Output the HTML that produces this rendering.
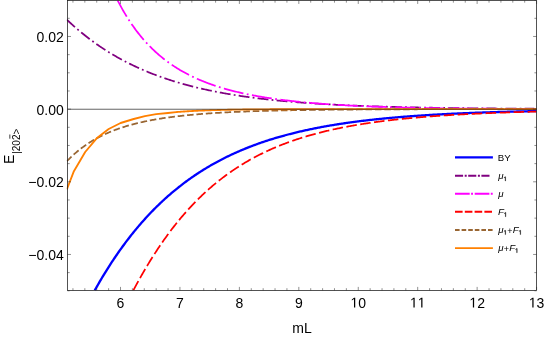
<!DOCTYPE html>
<html><head><meta charset="utf-8"><title>plot</title>
<style>html,body{margin:0;padding:0;background:#fff}body{width:545px;height:338px;position:relative;overflow:hidden;font-family:"Liberation Sans",sans-serif}</style>
</head><body>
<svg width="545" height="338" viewBox="0 0 545 338" style="position:absolute;left:0;top:0">
<defs><clipPath id="c"><rect x="66.7" y="0.45" width="469.90000000000003" height="289.95"/></clipPath></defs>
<g clip-path="url(#c)" fill="none" stroke-width="1.75" stroke-linejoin="round">
<path d="M94.73,290.40 L95.14,289.68 L96.08,288.00 L97.02,286.34 L97.96,284.70 L98.90,283.07 L99.84,281.45 L100.78,279.85 L101.73,278.27 L102.67,276.70 L103.61,275.14 L104.55,273.59 L105.49,272.06 L106.43,270.55 L107.37,269.05 L108.31,267.56 L109.26,266.08 L110.20,264.62 L111.14,263.17 L112.08,261.73 L113.02,260.31 L113.96,258.90 L114.90,257.50 L115.84,256.11 L116.79,254.74 L117.73,253.38 L118.67,252.03 L119.61,250.70 L120.55,249.37 L121.49,248.06 L122.43,246.76 L123.37,245.47 L124.32,244.19 L125.26,242.93 L126.20,241.68 L127.14,240.43 L128.08,239.20 L129.02,237.98 L129.96,236.77 L130.90,235.58 L131.85,234.39 L132.79,233.21 L133.73,232.05 L134.67,230.89 L135.61,229.75 L136.55,228.61 L137.49,227.49 L138.43,226.38 L139.38,225.27 L140.32,224.18 L141.26,223.10 L142.20,222.02 L143.14,220.96 L144.08,219.91 L145.02,218.86 L145.96,217.83 L146.91,216.80 L147.85,215.79 L148.79,214.78 L149.73,213.78 L150.67,212.79 L151.61,211.81 L152.55,210.84 L153.49,209.88 L154.44,208.93 L155.38,207.99 L156.32,207.05 L157.26,206.13 L158.20,205.21 L159.14,204.30 L160.08,203.40 L161.02,202.50 L161.97,201.62 L162.91,200.74 L163.85,199.88 L164.79,199.02 L165.73,198.16 L166.67,197.32 L167.61,196.48 L168.55,195.65 L169.50,194.83 L170.44,194.02 L171.38,193.21 L172.32,192.41 L173.26,191.62 L174.20,190.84 L175.14,190.06 L176.08,189.29 L177.03,188.53 L177.97,187.77 L178.91,187.02 L179.85,186.28 L180.79,185.55 L181.73,184.82 L182.67,184.10 L183.61,183.39 L184.56,182.68 L185.50,181.98 L186.44,181.28 L187.38,180.60 L188.32,179.91 L189.26,179.24 L190.20,178.57 L191.14,177.91 L192.09,177.25 L193.03,176.60 L193.97,175.96 L194.91,175.32 L195.85,174.68 L196.79,174.06 L197.73,173.44 L198.67,172.82 L199.62,172.21 L200.56,171.61 L201.50,171.01 L202.44,170.42 L203.38,169.83 L204.32,169.25 L205.26,168.68 L206.20,168.11 L207.15,167.54 L208.09,166.98 L209.03,166.43 L209.97,165.88 L210.91,165.33 L211.85,164.80 L212.79,164.26 L213.73,163.73 L214.68,163.21 L215.62,162.69 L216.56,162.18 L217.50,161.67 L218.44,161.16 L219.38,160.66 L220.32,160.17 L221.26,159.68 L222.21,159.19 L223.15,158.71 L224.09,158.23 L225.03,157.76 L225.97,157.29 L226.91,156.83 L227.85,156.37 L228.79,155.92 L229.73,155.47 L230.68,155.02 L231.62,154.58 L232.56,154.14 L233.50,153.71 L234.44,153.28 L235.38,152.86 L236.32,152.43 L237.26,152.02 L238.21,151.60 L239.15,151.19 L240.09,150.79 L241.03,150.39 L241.97,149.99 L242.91,149.60 L243.85,149.21 L244.79,148.82 L245.74,148.44 L246.68,148.06 L247.62,147.68 L248.56,147.31 L249.50,146.94 L250.44,146.58 L251.38,146.21 L252.32,145.86 L253.27,145.50 L254.21,145.15 L255.15,144.80 L256.09,144.46 L257.03,144.12 L257.97,143.78 L258.91,143.44 L259.85,143.11 L260.80,142.78 L261.74,142.46 L262.68,142.13 L263.62,141.82 L264.56,141.50 L265.50,141.19 L266.44,140.88 L267.38,140.57 L268.33,140.26 L269.27,139.96 L270.21,139.66 L271.15,139.37 L272.09,139.08 L273.03,138.79 L273.97,138.50 L274.91,138.21 L275.86,137.93 L276.80,137.65 L277.74,137.38 L278.68,137.10 L279.62,136.83 L280.56,136.56 L281.50,136.30 L282.44,136.04 L283.39,135.77 L284.33,135.52 L285.27,135.26 L286.21,135.01 L287.15,134.76 L288.09,134.51 L289.03,134.26 L289.97,134.02 L290.92,133.78 L291.86,133.54 L292.80,133.30 L293.74,133.07 L294.68,132.83 L295.62,132.60 L296.56,132.37 L297.50,132.15 L298.45,131.93 L299.39,131.70 L300.33,131.49 L301.27,131.27 L302.21,131.05 L303.15,130.84 L304.09,130.63 L305.03,130.42 L305.98,130.21 L306.92,130.01 L307.86,129.81 L308.80,129.61 L309.74,129.41 L310.68,129.21 L311.62,129.01 L312.56,128.82 L313.51,128.63 L314.45,128.44 L315.39,128.25 L316.33,128.07 L317.27,127.88 L318.21,127.70 L319.15,127.52 L320.09,127.34 L321.04,127.16 L321.98,126.99 L322.92,126.81 L323.86,126.64 L324.80,126.47 L325.74,126.30 L326.68,126.14 L327.62,125.97 L328.57,125.81 L329.51,125.65 L330.45,125.48 L331.39,125.33 L332.33,125.17 L333.27,125.01 L334.21,124.86 L335.15,124.70 L336.10,124.55 L337.04,124.40 L337.98,124.25 L338.92,124.11 L339.86,123.96 L340.80,123.82 L341.74,123.67 L342.68,123.53 L343.63,123.39 L344.57,123.25 L345.51,123.12 L346.45,122.98 L347.39,122.85 L348.33,122.71 L349.27,122.58 L350.21,122.45 L351.16,122.32 L352.10,122.19 L353.04,122.06 L353.98,121.94 L354.92,121.81 L355.86,121.69 L356.80,121.57 L357.74,121.45 L358.69,121.33 L359.63,121.21 L360.57,121.09 L361.51,120.97 L362.45,120.86 L363.39,120.74 L364.33,120.63 L365.27,120.52 L366.22,120.41 L367.16,120.30 L368.10,120.19 L369.04,120.08 L369.98,119.98 L370.92,119.87 L371.86,119.77 L372.80,119.66 L373.75,119.56 L374.69,119.46 L375.63,119.36 L376.57,119.26 L377.51,119.16 L378.45,119.06 L379.39,118.97 L380.33,118.87 L381.27,118.78 L382.22,118.68 L383.16,118.59 L384.10,118.50 L385.04,118.41 L385.98,118.32 L386.92,118.23 L387.86,118.14 L388.80,118.05 L389.75,117.96 L390.69,117.88 L391.63,117.79 L392.57,117.71 L393.51,117.62 L394.45,117.54 L395.39,117.46 L396.33,117.38 L397.28,117.30 L398.22,117.22 L399.16,117.14 L400.10,117.06 L401.04,116.99 L401.98,116.91 L402.92,116.83 L403.86,116.76 L404.81,116.68 L405.75,116.61 L406.69,116.54 L407.63,116.47 L408.57,116.40 L409.51,116.32 L410.45,116.26 L411.39,116.19 L412.34,116.12 L413.28,116.05 L414.22,115.98 L415.16,115.92 L416.10,115.85 L417.04,115.78 L417.98,115.72 L418.92,115.66 L419.87,115.59 L420.81,115.53 L421.75,115.47 L422.69,115.41 L423.63,115.35 L424.57,115.29 L425.51,115.23 L426.45,115.17 L427.40,115.11 L428.34,115.05 L429.28,114.99 L430.22,114.94 L431.16,114.88 L432.10,114.82 L433.04,114.77 L433.98,114.71 L434.93,114.66 L435.87,114.61 L436.81,114.55 L437.75,114.50 L438.69,114.45 L439.63,114.40 L440.57,114.35 L441.51,114.30 L442.46,114.25 L443.40,114.20 L444.34,114.15 L445.28,114.10 L446.22,114.05 L447.16,114.00 L448.10,113.96 L449.04,113.91 L449.99,113.86 L450.93,113.82 L451.87,113.77 L452.81,113.73 L453.75,113.68 L454.69,113.64 L455.63,113.59 L456.57,113.55 L457.52,113.51 L458.46,113.47 L459.40,113.42 L460.34,113.38 L461.28,113.34 L462.22,113.30 L463.16,113.26 L464.10,113.22 L465.05,113.18 L465.99,113.14 L466.93,113.10 L467.87,113.07 L468.81,113.03 L469.75,112.99 L470.69,112.95 L471.63,112.92 L472.58,112.88 L473.52,112.84 L474.46,112.81 L475.40,112.77 L476.34,112.74 L477.28,112.70 L478.22,112.67 L479.16,112.63 L480.11,112.60 L481.05,112.57 L481.99,112.53 L482.93,112.50 L483.87,112.47 L484.81,112.44 L485.75,112.40 L486.69,112.37 L487.64,112.34 L488.58,112.31 L489.52,112.28 L490.46,112.25 L491.40,112.22 L492.34,112.19 L493.28,112.16 L494.22,112.13 L495.17,112.10 L496.11,112.08 L497.05,112.05 L497.99,112.02 L498.93,111.99 L499.87,111.96 L500.81,111.94 L501.75,111.91 L502.70,111.88 L503.64,111.86 L504.58,111.83 L505.52,111.80 L506.46,111.78 L507.40,111.75 L508.34,111.73 L509.28,111.70 L510.23,111.68 L511.17,111.65 L512.11,111.63 L513.05,111.61 L513.99,111.58 L514.93,111.56 L515.87,111.54 L516.81,111.51 L517.76,111.49 L518.70,111.47 L519.64,111.45 L520.58,111.42 L521.52,111.40 L522.46,111.38 L523.40,111.36 L524.34,111.34 L525.29,111.32 L526.23,111.30 L527.17,111.28 L528.11,111.25 L529.05,111.23 L529.99,111.21 L530.93,111.19 L531.87,111.18 L532.82,111.16 L533.76,111.14 L534.70,111.12 L535.64,111.10 L536.58,111.08" stroke="#0000ff" stroke-width="2.3"/>
<path d="M66.90,19.71 L67.84,20.60 L68.78,21.49 L69.72,22.37 L70.66,23.24 L71.61,24.10 L72.55,24.95 L73.49,25.79 L74.43,26.63 L75.37,27.46 L76.31,28.27 L77.25,29.09 L78.19,29.89 L79.14,30.69 L80.08,31.47 L81.02,32.26 L81.96,33.03 L82.90,33.79 L83.84,34.55 L84.78,35.30 L85.72,36.05 L86.67,36.78 L87.61,37.51 L88.55,38.23 L89.49,38.95 L90.43,39.66 L91.37,40.36 L92.31,41.05 L93.25,41.74 L94.20,42.42 L95.14,43.09 L96.08,43.76 L97.02,44.42 L97.96,45.08 L98.90,45.72 L99.84,46.37 L100.78,47.00 L101.73,47.63 L102.67,48.25 L103.61,48.87 L104.55,49.48 L105.49,50.09 L106.43,50.69 L107.37,51.28 L108.31,51.87 L109.26,52.45 L110.20,53.02 L111.14,53.59 L112.08,54.16 L113.02,54.72 L113.96,55.27 L114.90,55.82 L115.84,56.36 L116.79,56.90 L117.73,57.43 L118.67,57.96 L119.61,58.48 L120.55,59.00 L121.49,59.51 L122.43,60.01 L123.37,60.52 L124.32,61.01 L125.26,61.50 L126.20,61.99 L127.14,62.47 L128.08,62.95 L129.02,63.42 L129.96,63.89 L130.90,64.35 L131.85,64.81 L132.79,65.26 L133.73,65.71 L134.67,66.16 L135.61,66.60 L136.55,67.04 L137.49,67.47 L138.43,67.90 L139.38,68.32 L140.32,68.74 L141.26,69.15 L142.20,69.56 L143.14,69.97 L144.08,70.37 L145.02,70.77 L145.96,71.17 L146.91,71.56 L147.85,71.94 L148.79,72.33 L149.73,72.71 L150.67,73.08 L151.61,73.45 L152.55,73.82 L153.49,74.19 L154.44,74.55 L155.38,74.90 L156.32,75.26 L157.26,75.61 L158.20,75.95 L159.14,76.30 L160.08,76.64 L161.02,76.97 L161.97,77.31 L162.91,77.63 L163.85,77.96 L164.79,78.28 L165.73,78.60 L166.67,78.92 L167.61,79.23 L168.55,79.54 L169.50,79.85 L170.44,80.15 L171.38,80.46 L172.32,80.75 L173.26,81.05 L174.20,81.34 L175.14,81.63 L176.08,81.91 L177.03,82.20 L177.97,82.48 L178.91,82.76 L179.85,83.03 L180.79,83.30 L181.73,83.57 L182.67,83.84 L183.61,84.10 L184.56,84.36 L185.50,84.62 L186.44,84.88 L187.38,85.13 L188.32,85.38 L189.26,85.63 L190.20,85.87 L191.14,86.12 L192.09,86.36 L193.03,86.60 L193.97,86.83 L194.91,87.07 L195.85,87.30 L196.79,87.53 L197.73,87.75 L198.67,87.98 L199.62,88.20 L200.56,88.42 L201.50,88.64 L202.44,88.85 L203.38,89.06 L204.32,89.27 L205.26,89.48 L206.20,89.69 L207.15,89.89 L208.09,90.10 L209.03,90.30 L209.97,90.49 L210.91,90.69 L211.85,90.89 L212.79,91.08 L213.73,91.27 L214.68,91.46 L215.62,91.64 L216.56,91.83 L217.50,92.01 L218.44,92.19 L219.38,92.37 L220.32,92.55 L221.26,92.72 L222.21,92.90 L223.15,93.07 L224.09,93.24 L225.03,93.40 L225.97,93.57 L226.91,93.74 L227.85,93.90 L228.79,94.06 L229.73,94.22 L230.68,94.38 L231.62,94.53 L232.56,94.69 L233.50,94.84 L234.44,94.99 L235.38,95.14 L236.32,95.29 L237.26,95.44 L238.21,95.59 L239.15,95.73 L240.09,95.87 L241.03,96.01 L241.97,96.15 L242.91,96.29 L243.85,96.43 L244.79,96.56 L245.74,96.70 L246.68,96.83 L247.62,96.96 L248.56,97.09 L249.50,97.22 L250.44,97.35 L251.38,97.47 L252.32,97.60 L253.27,97.72 L254.21,97.84 L255.15,97.96 L256.09,98.08 L257.03,98.20 L257.97,98.32 L258.91,98.43 L259.85,98.55 L260.80,98.66 L261.74,98.77 L262.68,98.88 L263.62,98.99 L264.56,99.10 L265.50,99.21 L266.44,99.32 L267.38,99.42 L268.33,99.53 L269.27,99.63 L270.21,99.73 L271.15,99.83 L272.09,99.93 L273.03,100.03 L273.97,100.13 L274.91,100.23 L275.86,100.32 L276.80,100.42 L277.74,100.51 L278.68,100.60 L279.62,100.70 L280.56,100.79 L281.50,100.88 L282.44,100.97 L283.39,101.06 L284.33,101.14 L285.27,101.23 L286.21,101.31 L287.15,101.40 L288.09,101.48 L289.03,101.57 L289.97,101.65 L290.92,101.73 L291.86,101.81 L292.80,101.89 L293.74,101.97 L294.68,102.04 L295.62,102.12 L296.56,102.20 L297.50,102.27 L298.45,102.35 L299.39,102.42 L300.33,102.49 L301.27,102.57 L302.21,102.64 L303.15,102.71 L304.09,102.78 L305.03,102.85 L305.98,102.91 L306.92,102.98 L307.86,103.05 L308.80,103.12 L309.74,103.18 L310.68,103.25 L311.62,103.31 L312.56,103.37 L313.51,103.44 L314.45,103.50 L315.39,103.56 L316.33,103.62 L317.27,103.68 L318.21,103.74 L319.15,103.80 L320.09,103.86 L321.04,103.92 L321.98,103.97 L322.92,104.03 L323.86,104.09 L324.80,104.14 L325.74,104.20 L326.68,104.25 L327.62,104.30 L328.57,104.36 L329.51,104.41 L330.45,104.46 L331.39,104.51 L332.33,104.56 L333.27,104.61 L334.21,104.66 L335.15,104.71 L336.10,104.76 L337.04,104.81 L337.98,104.86 L338.92,104.90 L339.86,104.95 L340.80,105.00 L341.74,105.04 L342.68,105.09 L343.63,105.13 L344.57,105.17 L345.51,105.22 L346.45,105.26 L347.39,105.30 L348.33,105.35 L349.27,105.39 L350.21,105.43 L351.16,105.47 L352.10,105.51 L353.04,105.55 L353.98,105.59 L354.92,105.63 L355.86,105.67 L356.80,105.71 L357.74,105.75 L358.69,105.78 L359.63,105.82 L360.57,105.86 L361.51,105.89 L362.45,105.93 L363.39,105.96 L364.33,106.00 L365.27,106.03 L366.22,106.07 L367.16,106.10 L368.10,106.14 L369.04,106.17 L369.98,106.20 L370.92,106.24 L371.86,106.27 L372.80,106.30 L373.75,106.33 L374.69,106.36 L375.63,106.39 L376.57,106.42 L377.51,106.45 L378.45,106.48 L379.39,106.51 L380.33,106.54 L381.27,106.57 L382.22,106.60 L383.16,106.63 L384.10,106.66 L385.04,106.68 L385.98,106.71 L386.92,106.74 L387.86,106.77 L388.80,106.79 L389.75,106.82 L390.69,106.84 L391.63,106.87 L392.57,106.90 L393.51,106.92 L394.45,106.95 L395.39,106.97 L396.33,106.99 L397.28,107.02 L398.22,107.04 L399.16,107.07 L400.10,107.09 L401.04,107.11 L401.98,107.13 L402.92,107.16 L403.86,107.18 L404.81,107.20 L405.75,107.22 L406.69,107.24 L407.63,107.27 L408.57,107.29 L409.51,107.31 L410.45,107.33 L411.39,107.35 L412.34,107.37 L413.28,107.39 L414.22,107.41 L415.16,107.43 L416.10,107.45 L417.04,107.47 L417.98,107.49 L418.92,107.50 L419.87,107.52 L420.81,107.54 L421.75,107.56 L422.69,107.58 L423.63,107.59 L424.57,107.61 L425.51,107.63 L426.45,107.65 L427.40,107.66 L428.34,107.68 L429.28,107.70 L430.22,107.71 L431.16,107.73 L432.10,107.74 L433.04,107.76 L433.98,107.78 L434.93,107.79 L435.87,107.81 L436.81,107.82 L437.75,107.84 L438.69,107.85 L439.63,107.87 L440.57,107.88 L441.51,107.90 L442.46,107.91 L443.40,107.92 L444.34,107.94 L445.28,107.95 L446.22,107.96 L447.16,107.98 L448.10,107.99 L449.04,108.00 L449.99,108.02 L450.93,108.03 L451.87,108.04 L452.81,108.06 L453.75,108.07 L454.69,108.08 L455.63,108.09 L456.57,108.10 L457.52,108.12 L458.46,108.13 L459.40,108.14 L460.34,108.15 L461.28,108.16 L462.22,108.17 L463.16,108.18 L464.10,108.19 L465.05,108.21 L465.99,108.22 L466.93,108.23 L467.87,108.24 L468.81,108.25 L469.75,108.26 L470.69,108.27 L471.63,108.28 L472.58,108.29 L473.52,108.30 L474.46,108.31 L475.40,108.32 L476.34,108.33 L477.28,108.34 L478.22,108.35 L479.16,108.35 L480.11,108.36 L481.05,108.37 L481.99,108.38 L482.93,108.39 L483.87,108.40 L484.81,108.41 L485.75,108.42 L486.69,108.42 L487.64,108.43 L488.58,108.44 L489.52,108.45 L490.46,108.46 L491.40,108.46 L492.34,108.47 L493.28,108.48 L494.22,108.49 L495.17,108.49 L496.11,108.50 L497.05,108.51 L497.99,108.52 L498.93,108.52 L499.87,108.53 L500.81,108.54 L501.75,108.55 L502.70,108.55 L503.64,108.56 L504.58,108.57 L505.52,108.57 L506.46,108.58 L507.40,108.59 L508.34,108.59 L509.28,108.60 L510.23,108.60 L511.17,108.61 L512.11,108.62 L513.05,108.62 L513.99,108.63 L514.93,108.63 L515.87,108.64 L516.81,108.65 L517.76,108.65 L518.70,108.66 L519.64,108.66 L520.58,108.67 L521.52,108.67 L522.46,108.68 L523.40,108.69 L524.34,108.69 L525.29,108.70 L526.23,108.70 L527.17,108.71 L528.11,108.71 L529.05,108.72 L529.99,108.72 L530.93,108.73 L531.87,108.73 L532.82,108.74 L533.76,108.74 L534.70,108.75 L535.64,108.75 L536.58,108.75" stroke="#800080" stroke-dasharray="10.9 3.2 1.8 3.2"/>
<path d="M117.64,0.45 L117.73,0.62 L118.67,2.43 L119.61,4.20 L120.55,5.95 L121.49,7.65 L122.43,9.33 L123.37,10.97 L124.32,12.58 L125.26,14.15 L126.20,15.70 L127.14,17.22 L128.08,18.71 L129.02,20.17 L129.96,21.60 L130.90,23.01 L131.85,24.39 L132.79,25.74 L133.73,27.07 L134.67,28.37 L135.61,29.65 L136.55,30.91 L137.49,32.14 L138.43,33.35 L139.38,34.54 L140.32,35.70 L141.26,36.85 L142.20,37.97 L143.14,39.07 L144.08,40.16 L145.02,41.22 L145.96,42.26 L146.91,43.29 L147.85,44.30 L148.79,45.28 L149.73,46.26 L150.67,47.21 L151.61,48.15 L152.55,49.07 L153.49,49.97 L154.44,50.86 L155.38,51.74 L156.32,52.59 L157.26,53.44 L158.20,54.27 L159.14,55.08 L160.08,55.88 L161.02,56.67 L161.97,57.44 L162.91,58.20 L163.85,58.95 L164.79,59.68 L165.73,60.41 L166.67,61.12 L167.61,61.81 L168.55,62.50 L169.50,63.18 L170.44,63.84 L171.38,64.49 L172.32,65.13 L173.26,65.77 L174.20,66.39 L175.14,67.00 L176.08,67.60 L177.03,68.19 L177.97,68.77 L178.91,69.34 L179.85,69.91 L180.79,70.46 L181.73,71.01 L182.67,71.54 L183.61,72.07 L184.56,72.59 L185.50,73.10 L186.44,73.60 L187.38,74.10 L188.32,74.59 L189.26,75.07 L190.20,75.54 L191.14,76.00 L192.09,76.46 L193.03,76.91 L193.97,77.35 L194.91,77.79 L195.85,78.22 L196.79,78.64 L197.73,79.06 L198.67,79.47 L199.62,79.87 L200.56,80.27 L201.50,80.66 L202.44,81.05 L203.38,81.43 L204.32,81.81 L205.26,82.17 L206.20,82.54 L207.15,82.90 L208.09,83.25 L209.03,83.60 L209.97,83.94 L210.91,84.28 L211.85,84.61 L212.79,84.94 L213.73,85.26 L214.68,85.58 L215.62,85.89 L216.56,86.20 L217.50,86.50 L218.44,86.80 L219.38,87.10 L220.32,87.39 L221.26,87.68 L222.21,87.96 L223.15,88.24 L224.09,88.51 L225.03,88.79 L225.97,89.05 L226.91,89.32 L227.85,89.58 L228.79,89.83 L229.73,90.08 L230.68,90.33 L231.62,90.58 L232.56,90.82 L233.50,91.06 L234.44,91.30 L235.38,91.53 L236.32,91.76 L237.26,91.98 L238.21,92.21 L239.15,92.42 L240.09,92.64 L241.03,92.86 L241.97,93.07 L242.91,93.27 L243.85,93.48 L244.79,93.68 L245.74,93.88 L246.68,94.08 L247.62,94.27 L248.56,94.46 L249.50,94.65 L250.44,94.84 L251.38,95.02 L252.32,95.20 L253.27,95.38 L254.21,95.56 L255.15,95.73 L256.09,95.91 L257.03,96.08 L257.97,96.24 L258.91,96.41 L259.85,96.57 L260.80,96.73 L261.74,96.89 L262.68,97.05 L263.62,97.20 L264.56,97.36 L265.50,97.51 L266.44,97.66 L267.38,97.80 L268.33,97.95 L269.27,98.09 L270.21,98.23 L271.15,98.37 L272.09,98.51 L273.03,98.65 L273.97,98.78 L274.91,98.91 L275.86,99.04 L276.80,99.17 L277.74,99.30 L278.68,99.43 L279.62,99.55 L280.56,99.67 L281.50,99.79 L282.44,99.91 L283.39,100.03 L284.33,100.15 L285.27,100.26 L286.21,100.38 L287.15,100.49 L288.09,100.60 L289.03,100.71 L289.97,100.82 L290.92,100.92 L291.86,101.03 L292.80,101.13 L293.74,101.23 L294.68,101.34 L295.62,101.44 L296.56,101.54 L297.50,101.63 L298.45,101.73 L299.39,101.82 L300.33,101.92 L301.27,102.01 L302.21,102.10 L303.15,102.19 L304.09,102.28 L305.03,102.37 L305.98,102.46 L306.92,102.55 L307.86,102.63 L308.80,102.71 L309.74,102.80 L310.68,102.88 L311.62,102.96 L312.56,103.04 L313.51,103.12 L314.45,103.20 L315.39,103.27 L316.33,103.35 L317.27,103.43 L318.21,103.50 L319.15,103.57 L320.09,103.65 L321.04,103.72 L321.98,103.79 L322.92,103.86 L323.86,103.93 L324.80,104.00 L325.74,104.06 L326.68,104.13 L327.62,104.19 L328.57,104.26 L329.51,104.32 L330.45,104.39 L331.39,104.45 L332.33,104.51 L333.27,104.57 L334.21,104.63 L335.15,104.69 L336.10,104.75 L337.04,104.81 L337.98,104.87 L338.92,104.92 L339.86,104.98 L340.80,105.03 L341.74,105.09 L342.68,105.14 L343.63,105.20 L344.57,105.25 L345.51,105.30 L346.45,105.35 L347.39,105.40 L348.33,105.45 L349.27,105.50 L350.21,105.55 L351.16,105.60 L352.10,105.65 L353.04,105.69 L353.98,105.74 L354.92,105.79 L355.86,105.83 L356.80,105.88 L357.74,105.92 L358.69,105.96 L359.63,106.01 L360.57,106.05 L361.51,106.09 L362.45,106.13 L363.39,106.17 L364.33,106.21 L365.27,106.25 L366.22,106.29 L367.16,106.33 L368.10,106.37 L369.04,106.41 L369.98,106.45 L370.92,106.48 L371.86,106.52 L372.80,106.56 L373.75,106.59 L374.69,106.63 L375.63,106.66 L376.57,106.70 L377.51,106.73 L378.45,106.77 L379.39,106.80 L380.33,106.83 L381.27,106.86 L382.22,106.90 L383.16,106.93 L384.10,106.96 L385.04,106.99 L385.98,107.02 L386.92,107.05 L387.86,107.08 L388.80,107.11 L389.75,107.14 L390.69,107.17 L391.63,107.19 L392.57,107.22 L393.51,107.25 L394.45,107.28 L395.39,107.30 L396.33,107.33 L397.28,107.36 L398.22,107.38 L399.16,107.41 L400.10,107.43 L401.04,107.46 L401.98,107.48 L402.92,107.50 L403.86,107.53 L404.81,107.55 L405.75,107.57 L406.69,107.60 L407.63,107.62 L408.57,107.64 L409.51,107.66 L410.45,107.69 L411.39,107.71 L412.34,107.73 L413.28,107.75 L414.22,107.77 L415.16,107.79 L416.10,107.81 L417.04,107.83 L417.98,107.85 L418.92,107.87 L419.87,107.89 L420.81,107.91 L421.75,107.92 L422.69,107.94 L423.63,107.96 L424.57,107.98 L425.51,108.00 L426.45,108.01 L427.40,108.03 L428.34,108.05 L429.28,108.06 L430.22,108.08 L431.16,108.10 L432.10,108.11 L433.04,108.13 L433.98,108.14 L434.93,108.16 L435.87,108.17 L436.81,108.19 L437.75,108.20 L438.69,108.22 L439.63,108.23 L440.57,108.25 L441.51,108.26 L442.46,108.27 L443.40,108.29 L444.34,108.30 L445.28,108.31 L446.22,108.33 L447.16,108.34 L448.10,108.35 L449.04,108.36 L449.99,108.38 L450.93,108.39 L451.87,108.40 L452.81,108.41 L453.75,108.42 L454.69,108.44 L455.63,108.45 L456.57,108.46 L457.52,108.47 L458.46,108.48 L459.40,108.49 L460.34,108.50 L461.28,108.51 L462.22,108.52 L463.16,108.53 L464.10,108.54 L465.05,108.55 L465.99,108.56 L466.93,108.57 L467.87,108.58 L468.81,108.59 L469.75,108.60 L470.69,108.61 L471.63,108.61 L472.58,108.62 L473.52,108.63 L474.46,108.64 L475.40,108.65 L476.34,108.66 L477.28,108.66 L478.22,108.67 L479.16,108.68 L480.11,108.69 L481.05,108.70 L481.99,108.70 L482.93,108.71 L483.87,108.72 L484.81,108.72 L485.75,108.73 L486.69,108.74 L487.64,108.75 L488.58,108.75 L489.52,108.76 L490.46,108.76 L491.40,108.77 L492.34,108.78 L493.28,108.78 L494.22,108.79 L495.17,108.80 L496.11,108.80 L497.05,108.81 L497.99,108.81 L498.93,108.82 L499.87,108.82 L500.81,108.83 L501.75,108.84 L502.70,108.84 L503.64,108.85 L504.58,108.85 L505.52,108.86 L506.46,108.86 L507.40,108.87 L508.34,108.87 L509.28,108.88 L510.23,108.88 L511.17,108.88 L512.11,108.89 L513.05,108.89 L513.99,108.90 L514.93,108.90 L515.87,108.91 L516.81,108.91 L517.76,108.91 L518.70,108.92 L519.64,108.92 L520.58,108.93 L521.52,108.93 L522.46,108.93 L523.40,108.94 L524.34,108.94 L525.29,108.95 L526.23,108.95 L527.17,108.95 L528.11,108.96 L529.05,108.96 L529.99,108.96 L530.93,108.97 L531.87,108.97 L532.82,108.97 L533.76,108.97 L534.70,108.98 L535.64,108.98 L536.58,108.98" stroke="#ff00ff" stroke-dasharray="20.1 3.45 1.8 3.45" stroke-dashoffset="1.5"/>
<path d="M133.37,290.40 L133.73,289.71 L134.67,287.94 L135.61,286.18 L136.55,284.43 L137.49,282.70 L138.43,280.98 L139.38,279.28 L140.32,277.60 L141.26,275.93 L142.20,274.27 L143.14,272.63 L144.08,271.01 L145.02,269.40 L145.96,267.80 L146.91,266.22 L147.85,264.65 L148.79,263.10 L149.73,261.56 L150.67,260.03 L151.61,258.52 L152.55,257.02 L153.49,255.53 L154.44,254.06 L155.38,252.61 L156.32,251.16 L157.26,249.73 L158.20,248.32 L159.14,246.91 L160.08,245.52 L161.02,244.14 L161.97,242.78 L162.91,241.43 L163.85,240.09 L164.79,238.76 L165.73,237.45 L166.67,236.14 L167.61,234.85 L168.55,233.58 L169.50,232.31 L170.44,231.06 L171.38,229.82 L172.32,228.59 L173.26,227.37 L174.20,226.16 L175.14,224.97 L176.08,223.79 L177.03,222.61 L177.97,221.45 L178.91,220.31 L179.85,219.17 L180.79,218.04 L181.73,216.93 L182.67,215.82 L183.61,214.73 L184.56,213.64 L185.50,212.57 L186.44,211.51 L187.38,210.46 L188.32,209.41 L189.26,208.38 L190.20,207.36 L191.14,206.35 L192.09,205.35 L193.03,204.36 L193.97,203.38 L194.91,202.41 L195.85,201.45 L196.79,200.49 L197.73,199.55 L198.67,198.62 L199.62,197.69 L200.56,196.78 L201.50,195.87 L202.44,194.98 L203.38,194.09 L204.32,193.21 L205.26,192.34 L206.20,191.48 L207.15,190.63 L208.09,189.78 L209.03,188.95 L209.97,188.12 L210.91,187.30 L211.85,186.49 L212.79,185.69 L213.73,184.90 L214.68,184.11 L215.62,183.34 L216.56,182.57 L217.50,181.80 L218.44,181.05 L219.38,180.30 L220.32,179.57 L221.26,178.83 L222.21,178.11 L223.15,177.40 L224.09,176.69 L225.03,175.99 L225.97,175.29 L226.91,174.60 L227.85,173.92 L228.79,173.25 L229.73,172.59 L230.68,171.93 L231.62,171.27 L232.56,170.63 L233.50,169.99 L234.44,169.36 L235.38,168.73 L236.32,168.11 L237.26,167.50 L238.21,166.89 L239.15,166.29 L240.09,165.70 L241.03,165.11 L241.97,164.53 L242.91,163.96 L243.85,163.39 L244.79,162.82 L245.74,162.27 L246.68,161.71 L247.62,161.17 L248.56,160.63 L249.50,160.09 L250.44,159.56 L251.38,159.04 L252.32,158.52 L253.27,158.01 L254.21,157.50 L255.15,157.00 L256.09,156.50 L257.03,156.01 L257.97,155.53 L258.91,155.05 L259.85,154.57 L260.80,154.10 L261.74,153.63 L262.68,153.17 L263.62,152.72 L264.56,152.26 L265.50,151.82 L266.44,151.37 L267.38,150.94 L268.33,150.50 L269.27,150.08 L270.21,149.65 L271.15,149.23 L272.09,148.82 L273.03,148.41 L273.97,148.00 L274.91,147.60 L275.86,147.20 L276.80,146.81 L277.74,146.42 L278.68,146.04 L279.62,145.66 L280.56,145.28 L281.50,144.91 L282.44,144.54 L283.39,144.17 L284.33,143.81 L285.27,143.45 L286.21,143.10 L287.15,142.75 L288.09,142.40 L289.03,142.06 L289.97,141.72 L290.92,141.39 L291.86,141.06 L292.80,140.73 L293.74,140.40 L294.68,140.08 L295.62,139.76 L296.56,139.45 L297.50,139.14 L298.45,138.83 L299.39,138.53 L300.33,138.22 L301.27,137.93 L302.21,137.63 L303.15,137.34 L304.09,137.05 L305.03,136.77 L305.98,136.48 L306.92,136.20 L307.86,135.93 L308.80,135.65 L309.74,135.38 L310.68,135.11 L311.62,134.85 L312.56,134.59 L313.51,134.33 L314.45,134.07 L315.39,133.82 L316.33,133.56 L317.27,133.32 L318.21,133.07 L319.15,132.83 L320.09,132.58 L321.04,132.35 L321.98,132.11 L322.92,131.88 L323.86,131.65 L324.80,131.42 L325.74,131.19 L326.68,130.97 L327.62,130.75 L328.57,130.53 L329.51,130.31 L330.45,130.10 L331.39,129.88 L332.33,129.67 L333.27,129.47 L334.21,129.26 L335.15,129.06 L336.10,128.86 L337.04,128.66 L337.98,128.46 L338.92,128.27 L339.86,128.07 L340.80,127.88 L341.74,127.69 L342.68,127.51 L343.63,127.32 L344.57,127.14 L345.51,126.96 L346.45,126.78 L347.39,126.60 L348.33,126.43 L349.27,126.25 L350.21,126.08 L351.16,125.91 L352.10,125.74 L353.04,125.58 L353.98,125.41 L354.92,125.25 L355.86,125.09 L356.80,124.93 L357.74,124.77 L358.69,124.62 L359.63,124.46 L360.57,124.31 L361.51,124.16 L362.45,124.01 L363.39,123.86 L364.33,123.71 L365.27,123.57 L366.22,123.42 L367.16,123.28 L368.10,123.14 L369.04,123.00 L369.98,122.86 L370.92,122.73 L371.86,122.59 L372.80,122.46 L373.75,122.33 L374.69,122.20 L375.63,122.07 L376.57,121.94 L377.51,121.81 L378.45,121.69 L379.39,121.56 L380.33,121.44 L381.27,121.32 L382.22,121.20 L383.16,121.08 L384.10,120.96 L385.04,120.85 L385.98,120.73 L386.92,120.62 L387.86,120.50 L388.80,120.39 L389.75,120.28 L390.69,120.17 L391.63,120.06 L392.57,119.95 L393.51,119.85 L394.45,119.74 L395.39,119.64 L396.33,119.54 L397.28,119.43 L398.22,119.33 L399.16,119.23 L400.10,119.13 L401.04,119.04 L401.98,118.94 L402.92,118.84 L403.86,118.75 L404.81,118.65 L405.75,118.56 L406.69,118.47 L407.63,118.38 L408.57,118.29 L409.51,118.20 L410.45,118.11 L411.39,118.02 L412.34,117.94 L413.28,117.85 L414.22,117.77 L415.16,117.68 L416.10,117.60 L417.04,117.52 L417.98,117.44 L418.92,117.35 L419.87,117.27 L420.81,117.20 L421.75,117.12 L422.69,117.04 L423.63,116.96 L424.57,116.89 L425.51,116.81 L426.45,116.74 L427.40,116.66 L428.34,116.59 L429.28,116.52 L430.22,116.45 L431.16,116.38 L432.10,116.31 L433.04,116.24 L433.98,116.17 L434.93,116.10 L435.87,116.03 L436.81,115.97 L437.75,115.90 L438.69,115.84 L439.63,115.77 L440.57,115.71 L441.51,115.64 L442.46,115.58 L443.40,115.52 L444.34,115.46 L445.28,115.40 L446.22,115.34 L447.16,115.28 L448.10,115.22 L449.04,115.16 L449.99,115.10 L450.93,115.04 L451.87,114.99 L452.81,114.93 L453.75,114.87 L454.69,114.82 L455.63,114.76 L456.57,114.71 L457.52,114.66 L458.46,114.60 L459.40,114.55 L460.34,114.50 L461.28,114.45 L462.22,114.40 L463.16,114.34 L464.10,114.29 L465.05,114.25 L465.99,114.20 L466.93,114.15 L467.87,114.10 L468.81,114.05 L469.75,114.00 L470.69,113.96 L471.63,113.91 L472.58,113.87 L473.52,113.82 L474.46,113.77 L475.40,113.73 L476.34,113.69 L477.28,113.64 L478.22,113.60 L479.16,113.56 L480.11,113.51 L481.05,113.47 L481.99,113.43 L482.93,113.39 L483.87,113.35 L484.81,113.31 L485.75,113.27 L486.69,113.23 L487.64,113.19 L488.58,113.15 L489.52,113.11 L490.46,113.07 L491.40,113.03 L492.34,113.00 L493.28,112.96 L494.22,112.92 L495.17,112.89 L496.11,112.85 L497.05,112.82 L497.99,112.78 L498.93,112.74 L499.87,112.71 L500.81,112.68 L501.75,112.64 L502.70,112.61 L503.64,112.57 L504.58,112.54 L505.52,112.51 L506.46,112.48 L507.40,112.44 L508.34,112.41 L509.28,112.38 L510.23,112.35 L511.17,112.32 L512.11,112.29 L513.05,112.26 L513.99,112.23 L514.93,112.20 L515.87,112.17 L516.81,112.14 L517.76,112.11 L518.70,112.08 L519.64,112.05 L520.58,112.02 L521.52,111.99 L522.46,111.97 L523.40,111.94 L524.34,111.91 L525.29,111.89 L526.23,111.86 L527.17,111.83 L528.11,111.81 L529.05,111.78 L529.99,111.75 L530.93,111.73 L531.87,111.70 L532.82,111.68 L533.76,111.65 L534.70,111.63 L535.64,111.60 L536.58,111.58" stroke="#ff0000" stroke-dasharray="10.5 3.5"/>
<path d="M66.90,161.21 L67.84,160.24 L68.78,159.28 L69.72,158.34 L70.66,157.43 L71.61,156.53 L72.55,155.65 L73.49,154.79 L74.43,153.95 L75.37,153.13 L76.31,152.32 L77.25,151.53 L78.19,150.75 L79.14,149.99 L80.08,149.25 L81.02,148.52 L81.96,147.81 L82.90,147.11 L83.84,146.42 L84.78,145.75 L85.72,145.10 L86.67,144.45 L87.61,143.82 L88.55,143.20 L89.49,142.60 L90.43,142.00 L91.37,141.42 L92.31,140.85 L93.25,140.29 L94.20,139.74 L95.14,139.20 L96.08,138.67 L97.02,138.16 L97.96,137.65 L98.90,137.15 L99.84,136.67 L100.78,136.19 L101.73,135.72 L102.67,135.26 L103.61,134.81 L104.55,134.37 L105.49,133.93 L106.43,133.51 L107.37,133.09 L108.31,132.68 L109.26,132.28 L110.20,131.88 L111.14,131.50 L112.08,131.12 L113.02,130.75 L113.96,130.38 L114.90,130.02 L115.84,129.67 L116.79,129.33 L117.73,128.99 L118.67,128.65 L119.61,128.33 L120.55,128.01 L121.49,127.69 L122.43,127.39 L123.37,127.08 L124.32,126.79 L125.26,126.49 L126.20,126.21 L127.14,125.93 L128.08,125.65 L129.02,125.38 L129.96,125.11 L130.90,124.85 L131.85,124.59 L132.79,124.34 L133.73,124.09 L134.67,123.85 L135.61,123.61 L136.55,123.38 L137.49,123.15 L138.43,122.92 L139.38,122.70 L140.32,122.48 L141.26,122.26 L142.20,122.05 L143.14,121.84 L144.08,121.64 L145.02,121.44 L145.96,121.24 L146.91,121.05 L147.85,120.86 L148.79,120.67 L149.73,120.49 L150.67,120.31 L151.61,120.13 L152.55,119.96 L153.49,119.79 L154.44,119.62 L155.38,119.46 L156.32,119.29 L157.26,119.13 L158.20,118.98 L159.14,118.82 L160.08,118.67 L161.02,118.52 L161.97,118.37 L162.91,118.23 L163.85,118.09 L164.79,117.95 L165.73,117.81 L166.67,117.68 L167.61,117.54 L168.55,117.41 L169.50,117.29 L170.44,117.16 L171.38,117.04 L172.32,116.91 L173.26,116.79 L174.20,116.68 L175.14,116.56 L176.08,116.45 L177.03,116.33 L177.97,116.22 L178.91,116.11 L179.85,116.01 L180.79,115.90 L181.73,115.80 L182.67,115.70 L183.61,115.60 L184.56,115.50 L185.50,115.40 L186.44,115.30 L187.38,115.21 L188.32,115.12 L189.26,115.03 L190.20,114.94 L191.14,114.85 L192.09,114.76 L193.03,114.68 L193.97,114.59 L194.91,114.51 L195.85,114.43 L196.79,114.35 L197.73,114.27 L198.67,114.19 L199.62,114.12 L200.56,114.04 L201.50,113.97 L202.44,113.89 L203.38,113.82 L204.32,113.75 L205.26,113.68 L206.20,113.61 L207.15,113.55 L208.09,113.48 L209.03,113.42 L209.97,113.35 L210.91,113.29 L211.85,113.23 L212.79,113.16 L213.73,113.10 L214.68,113.04 L215.62,112.99 L216.56,112.93 L217.50,112.87 L218.44,112.81 L219.38,112.76 L220.32,112.71 L221.26,112.65 L222.21,112.60 L223.15,112.55 L224.09,112.50 L225.03,112.45 L225.97,112.40 L226.91,112.35 L227.85,112.30 L228.79,112.25 L229.73,112.20 L230.68,112.16 L231.62,112.11 L232.56,112.07 L233.50,112.03 L234.44,111.98 L235.38,111.94 L236.32,111.90 L237.26,111.86 L238.21,111.82 L239.15,111.77 L240.09,111.74 L241.03,111.70 L241.97,111.66 L242.91,111.62 L243.85,111.58 L244.79,111.55 L245.74,111.51 L246.68,111.47 L247.62,111.44 L248.56,111.40 L249.50,111.37 L250.44,111.34 L251.38,111.30 L252.32,111.27 L253.27,111.24 L254.21,111.21 L255.15,111.18 L256.09,111.15 L257.03,111.11 L257.97,111.08 L258.91,111.06 L259.85,111.03 L260.80,111.00 L261.74,110.97 L262.68,110.94 L263.62,110.91 L264.56,110.89 L265.50,110.86 L266.44,110.83 L267.38,110.81 L268.33,110.78 L269.27,110.76 L270.21,110.73 L271.15,110.71 L272.09,110.69 L273.03,110.66 L273.97,110.64 L274.91,110.62 L275.86,110.59 L276.80,110.57 L277.74,110.55 L278.68,110.53 L279.62,110.51 L280.56,110.48 L281.50,110.46 L282.44,110.44 L283.39,110.42 L284.33,110.40 L285.27,110.38 L286.21,110.36 L287.15,110.35 L288.09,110.33 L289.03,110.31 L289.97,110.29 L290.92,110.27 L291.86,110.25 L292.80,110.24 L293.74,110.22 L294.68,110.20 L295.62,110.19 L296.56,110.17 L297.50,110.15 L298.45,110.14 L299.39,110.12 L300.33,110.11 L301.27,110.09 L302.21,110.08 L303.15,110.06 L304.09,110.05 L305.03,110.03 L305.98,110.02 L306.92,110.00 L307.86,109.99 L308.80,109.98 L309.74,109.96 L310.68,109.95 L311.62,109.94 L312.56,109.92 L313.51,109.91 L314.45,109.90 L315.39,109.89 L316.33,109.88 L317.27,109.86 L318.21,109.85 L319.15,109.84 L320.09,109.83 L321.04,109.82 L321.98,109.81 L322.92,109.80 L323.86,109.79 L324.80,109.77 L325.74,109.76 L326.68,109.75 L327.62,109.74 L328.57,109.73 L329.51,109.72 L330.45,109.71 L331.39,109.71 L332.33,109.70 L333.27,109.69 L334.21,109.68 L335.15,109.67 L336.10,109.66 L337.04,109.65 L337.98,109.64 L338.92,109.63 L339.86,109.63 L340.80,109.62 L341.74,109.61 L342.68,109.60 L343.63,109.59 L344.57,109.59 L345.51,109.58 L346.45,109.57 L347.39,109.56 L348.33,109.56 L349.27,109.55 L350.21,109.54 L351.16,109.54 L352.10,109.53 L353.04,109.52 L353.98,109.51 L354.92,109.51 L355.86,109.50 L356.80,109.50 L357.74,109.49 L358.69,109.48 L359.63,109.48 L360.57,109.47 L361.51,109.47 L362.45,109.46 L363.39,109.45 L364.33,109.45 L365.27,109.44 L366.22,109.44 L367.16,109.43 L368.10,109.43 L369.04,109.42 L369.98,109.42 L370.92,109.41 L371.86,109.41 L372.80,109.40 L373.75,109.40 L374.69,109.39 L375.63,109.39 L376.57,109.38 L377.51,109.38 L378.45,109.37 L379.39,109.37 L380.33,109.37 L381.27,109.36 L382.22,109.36 L383.16,109.35 L384.10,109.35 L385.04,109.35 L385.98,109.34 L386.92,109.34 L387.86,109.33 L388.80,109.33 L389.75,109.33 L390.69,109.32 L391.63,109.32 L392.57,109.32 L393.51,109.31 L394.45,109.31 L395.39,109.31 L396.33,109.30 L397.28,109.30 L398.22,109.30 L399.16,109.29 L400.10,109.29 L401.04,109.29 L401.98,109.29 L402.92,109.28 L403.86,109.28 L404.81,109.28 L405.75,109.27 L406.69,109.27 L407.63,109.27 L408.57,109.27 L409.51,109.26 L410.45,109.26 L411.39,109.26 L412.34,109.26 L413.28,109.25 L414.22,109.25 L415.16,109.25 L416.10,109.25 L417.04,109.25 L417.98,109.24 L418.92,109.24 L419.87,109.24 L420.81,109.24 L421.75,109.24 L422.69,109.23 L423.63,109.23 L424.57,109.23 L425.51,109.23 L426.45,109.23 L427.40,109.22 L428.34,109.22 L429.28,109.22 L430.22,109.22 L431.16,109.22 L432.10,109.22 L433.04,109.21 L433.98,109.21 L434.93,109.21 L435.87,109.21 L436.81,109.21 L437.75,109.21 L438.69,109.21 L439.63,109.20 L440.57,109.20 L441.51,109.20 L442.46,109.20 L443.40,109.20 L444.34,109.20 L445.28,109.20 L446.22,109.19 L447.16,109.19 L448.10,109.19 L449.04,109.19 L449.99,109.19 L450.93,109.19 L451.87,109.19 L452.81,109.19 L453.75,109.19 L454.69,109.18 L455.63,109.18 L456.57,109.18 L457.52,109.18 L458.46,109.18 L459.40,109.18 L460.34,109.18 L461.28,109.18 L462.22,109.18 L463.16,109.18 L464.10,109.18 L465.05,109.17 L465.99,109.17 L466.93,109.17 L467.87,109.17 L468.81,109.17 L469.75,109.17 L470.69,109.17 L471.63,109.17 L472.58,109.17 L473.52,109.17 L474.46,109.17 L475.40,109.17 L476.34,109.17 L477.28,109.17 L478.22,109.16 L479.16,109.16 L480.11,109.16 L481.05,109.16 L481.99,109.16 L482.93,109.16 L483.87,109.16 L484.81,109.16 L485.75,109.16 L486.69,109.16 L487.64,109.16 L488.58,109.16 L489.52,109.16 L490.46,109.16 L491.40,109.16 L492.34,109.16 L493.28,109.16 L494.22,109.16 L495.17,109.16 L496.11,109.16 L497.05,109.15 L497.99,109.15 L498.93,109.15 L499.87,109.15 L500.81,109.15 L501.75,109.15 L502.70,109.15 L503.64,109.15 L504.58,109.15 L505.52,109.15 L506.46,109.15 L507.40,109.15 L508.34,109.15 L509.28,109.15 L510.23,109.15 L511.17,109.15 L512.11,109.15 L513.05,109.15 L513.99,109.15 L514.93,109.15 L515.87,109.15 L516.81,109.15 L517.76,109.15 L518.70,109.15 L519.64,109.15 L520.58,109.15 L521.52,109.15 L522.46,109.15 L523.40,109.15 L524.34,109.15 L525.29,109.15 L526.23,109.15 L527.17,109.15 L528.11,109.15 L529.05,109.15 L529.99,109.15 L530.93,109.15 L531.87,109.15 L532.82,109.15 L533.76,109.15 L534.70,109.14 L535.64,109.14 L536.58,109.14" stroke="#996633" stroke-dasharray="6.6 2.8"/>
<path d="M66.90,189.40 L67.50,187.80 L73.90,171.20 L85.20,152.00 L97.30,137.70 L108.70,129.00 L120.60,123.00 L133.70,119.00 L144.90,116.10 L156.20,114.20 L168.00,113.00 L176.08,112.09 L177.03,112.01 L177.97,111.94 L178.91,111.87 L179.85,111.80 L180.79,111.73 L181.73,111.66 L182.67,111.60 L183.61,111.53 L184.56,111.47 L185.50,111.41 L186.44,111.35 L187.38,111.29 L188.32,111.24 L189.26,111.18 L190.20,111.13 L191.14,111.08 L192.09,111.02 L193.03,110.98 L193.97,110.93 L194.91,110.88 L195.85,110.83 L196.79,110.79 L197.73,110.75 L198.67,110.70 L199.62,110.66 L200.56,110.62 L201.50,110.58 L202.44,110.54 L203.38,110.50 L204.32,110.47 L205.26,110.43 L206.20,110.40 L207.15,110.36 L208.09,110.33 L209.03,110.30 L209.97,110.26 L210.91,110.23 L211.85,110.20 L212.79,110.17 L213.73,110.15 L214.68,110.12 L215.62,110.09 L216.56,110.06 L217.50,110.04 L218.44,110.01 L219.38,109.99 L220.32,109.96 L221.26,109.94 L222.21,109.92 L223.15,109.90 L224.09,109.87 L225.03,109.85 L225.97,109.83 L226.91,109.81 L227.85,109.79 L228.79,109.77 L229.73,109.76 L230.68,109.74 L231.62,109.72 L232.56,109.70 L233.50,109.69 L234.44,109.67 L235.38,109.65 L236.32,109.64 L237.26,109.62 L238.21,109.61 L239.15,109.60 L240.09,109.58 L241.03,109.57 L241.97,109.56 L242.91,109.54 L243.85,109.53 L244.79,109.52 L245.74,109.51 L246.68,109.49 L247.62,109.48 L248.56,109.47 L249.50,109.46 L250.44,109.45 L251.38,109.44 L252.32,109.43 L253.27,109.42 L254.21,109.41 L255.15,109.41 L256.09,109.40 L257.03,109.39 L257.97,109.38 L258.91,109.37 L259.85,109.36 L260.80,109.36 L261.74,109.35 L262.68,109.34 L263.62,109.34 L264.56,109.33 L265.50,109.32 L266.44,109.32 L267.38,109.31 L268.33,109.30 L269.27,109.30 L270.21,109.29 L271.15,109.29 L272.09,109.28 L273.03,109.28 L273.97,109.27 L274.91,109.27 L275.86,109.26 L276.80,109.26 L277.74,109.25 L278.68,109.25 L279.62,109.25 L280.56,109.24 L281.50,109.24 L282.44,109.24 L283.39,109.23 L284.33,109.23 L285.27,109.22 L286.21,109.22 L287.15,109.22 L288.09,109.22 L289.03,109.21 L289.97,109.21 L290.92,109.21 L291.86,109.20 L292.80,109.20 L293.74,109.20 L294.68,109.20 L295.62,109.19 L296.56,109.19 L297.50,109.19 L298.45,109.19 L299.39,109.19 L300.33,109.18 L301.27,109.18 L302.21,109.18 L303.15,109.18 L304.09,109.18 L305.03,109.18 L305.98,109.17 L306.92,109.17 L307.86,109.17 L308.80,109.17 L309.74,109.17 L310.68,109.17 L311.62,109.17 L312.56,109.17 L313.51,109.16 L314.45,109.16 L315.39,109.16 L316.33,109.16 L317.27,109.16 L318.21,109.16 L319.15,109.16 L320.09,109.16 L321.04,109.16 L321.98,109.16 L322.92,109.16 L323.86,109.15 L324.80,109.15 L325.74,109.15 L326.68,109.15 L327.62,109.15 L328.57,109.15 L329.51,109.15 L330.45,109.15 L331.39,109.15 L332.33,109.15 L333.27,109.15 L334.21,109.15 L335.15,109.15 L336.10,109.15 L337.04,109.15 L337.98,109.15 L338.92,109.15 L339.86,109.15 L340.80,109.15 L341.74,109.15 L342.68,109.15 L343.63,109.15 L344.57,109.14 L345.51,109.14 L346.45,109.14 L347.39,109.14 L348.33,109.14 L349.27,109.14 L350.21,109.14 L351.16,109.14 L352.10,109.14 L353.04,109.14 L353.98,109.14 L354.92,109.14 L355.86,109.14 L356.80,109.14 L357.74,109.14 L358.69,109.14 L359.63,109.14 L360.57,109.14 L361.51,109.14 L362.45,109.14 L363.39,109.14 L364.33,109.14 L365.27,109.14 L366.22,109.14 L367.16,109.14 L368.10,109.14 L369.04,109.14 L369.98,109.14 L370.92,109.14 L371.86,109.14 L372.80,109.14 L373.75,109.14 L374.69,109.14 L375.63,109.14 L376.57,109.14 L377.51,109.14 L378.45,109.14 L379.39,109.14 L380.33,109.14 L381.27,109.14 L382.22,109.14 L383.16,109.14 L384.10,109.14 L385.04,109.14 L385.98,109.14 L386.92,109.14 L387.86,109.14 L388.80,109.14 L389.75,109.14 L390.69,109.14 L391.63,109.14 L392.57,109.14 L393.51,109.14 L394.45,109.14 L395.39,109.14 L396.33,109.14 L397.28,109.14 L398.22,109.14 L399.16,109.14 L400.10,109.14 L401.04,109.14 L401.98,109.14 L402.92,109.14 L403.86,109.14 L404.81,109.14 L405.75,109.14 L406.69,109.14 L407.63,109.14 L408.57,109.14 L409.51,109.14 L410.45,109.14 L411.39,109.14 L412.34,109.14 L413.28,109.14 L414.22,109.14 L415.16,109.14 L416.10,109.14 L417.04,109.14 L417.98,109.14 L418.92,109.14 L419.87,109.14 L420.81,109.14 L421.75,109.14 L422.69,109.14 L423.63,109.14 L424.57,109.14 L425.51,109.14 L426.45,109.14 L427.40,109.14 L428.34,109.14 L429.28,109.14 L430.22,109.14 L431.16,109.14 L432.10,109.14 L433.04,109.14 L433.98,109.14 L434.93,109.14 L435.87,109.14 L436.81,109.14 L437.75,109.14 L438.69,109.14 L439.63,109.14 L440.57,109.14 L441.51,109.14 L442.46,109.14 L443.40,109.14 L444.34,109.14 L445.28,109.14 L446.22,109.14 L447.16,109.14 L448.10,109.14 L449.04,109.14 L449.99,109.14 L450.93,109.14 L451.87,109.14 L452.81,109.14 L453.75,109.14 L454.69,109.14 L455.63,109.14 L456.57,109.14 L457.52,109.14 L458.46,109.14 L459.40,109.14 L460.34,109.14 L461.28,109.14 L462.22,109.14 L463.16,109.14 L464.10,109.14 L465.05,109.14 L465.99,109.14 L466.93,109.14 L467.87,109.14 L468.81,109.14 L469.75,109.14 L470.69,109.14 L471.63,109.14 L472.58,109.14 L473.52,109.14 L474.46,109.14 L475.40,109.14 L476.34,109.14 L477.28,109.14 L478.22,109.14 L479.16,109.14 L480.11,109.14 L481.05,109.14 L481.99,109.14 L482.93,109.14 L483.87,109.14 L484.81,109.14 L485.75,109.14 L486.69,109.14 L487.64,109.14 L488.58,109.14 L489.52,109.14 L490.46,109.14 L491.40,109.14 L492.34,109.14 L493.28,109.14 L494.22,109.14 L495.17,109.14 L496.11,109.14 L497.05,109.14 L497.99,109.14 L498.93,109.14 L499.87,109.14 L500.81,109.14 L501.75,109.14 L502.70,109.14 L503.64,109.14 L504.58,109.14 L505.52,109.14 L506.46,109.14 L507.40,109.14 L508.34,109.14 L509.28,109.14 L510.23,109.14 L511.17,109.14 L512.11,109.14 L513.05,109.14 L513.99,109.14 L514.93,109.14 L515.87,109.14 L516.81,109.14 L517.76,109.14 L518.70,109.14 L519.64,109.14 L520.58,109.14 L521.52,109.14 L522.46,109.14 L523.40,109.14 L524.34,109.14 L525.29,109.14 L526.23,109.14 L527.17,109.14 L528.11,109.14 L529.05,109.14 L529.99,109.14 L530.93,109.14 L531.87,109.14 L532.82,109.14 L533.76,109.14 L534.70,109.14 L535.64,109.14 L536.58,109.14" stroke="#ff8000" stroke-width="1.85"/>
</g>
<line x1="67.5" y1="109.24" x2="536.6" y2="109.24" stroke="#222" stroke-width="0.7"/>
<rect x="67.5" y="0.45" width="469.1" height="289.95" fill="none" stroke="#1a1a1a" stroke-width="0.75"/>
<path d="M72.95,290.4v-2.2 M72.95,0.45v2.2 M84.84,290.4v-2.2 M84.84,0.45v2.2 M96.72,290.4v-2.2 M96.72,0.45v2.2 M108.61,290.4v-2.2 M108.61,0.45v2.2 M120.50,290.4v-3.5 M120.50,0.45v3.5 M132.39,290.4v-2.2 M132.39,0.45v2.2 M144.28,290.4v-2.2 M144.28,0.45v2.2 M156.16,290.4v-2.2 M156.16,0.45v2.2 M168.05,290.4v-2.2 M168.05,0.45v2.2 M179.94,290.4v-3.5 M179.94,0.45v3.5 M191.83,290.4v-2.2 M191.83,0.45v2.2 M203.72,290.4v-2.2 M203.72,0.45v2.2 M215.60,290.4v-2.2 M215.60,0.45v2.2 M227.49,290.4v-2.2 M227.49,0.45v2.2 M239.38,290.4v-3.5 M239.38,0.45v3.5 M251.27,290.4v-2.2 M251.27,0.45v2.2 M263.16,290.4v-2.2 M263.16,0.45v2.2 M275.04,290.4v-2.2 M275.04,0.45v2.2 M286.93,290.4v-2.2 M286.93,0.45v2.2 M298.82,290.4v-3.5 M298.82,0.45v3.5 M310.71,290.4v-2.2 M310.71,0.45v2.2 M322.60,290.4v-2.2 M322.60,0.45v2.2 M334.48,290.4v-2.2 M334.48,0.45v2.2 M346.37,290.4v-2.2 M346.37,0.45v2.2 M358.26,290.4v-3.5 M358.26,0.45v3.5 M370.15,290.4v-2.2 M370.15,0.45v2.2 M382.04,290.4v-2.2 M382.04,0.45v2.2 M393.92,290.4v-2.2 M393.92,0.45v2.2 M405.81,290.4v-2.2 M405.81,0.45v2.2 M417.70,290.4v-3.5 M417.70,0.45v3.5 M429.59,290.4v-2.2 M429.59,0.45v2.2 M441.48,290.4v-2.2 M441.48,0.45v2.2 M453.36,290.4v-2.2 M453.36,0.45v2.2 M465.25,290.4v-2.2 M465.25,0.45v2.2 M477.14,290.4v-3.5 M477.14,0.45v3.5 M489.03,290.4v-2.2 M489.03,0.45v2.2 M500.92,290.4v-2.2 M500.92,0.45v2.2 M512.80,290.4v-2.2 M512.80,0.45v2.2 M524.69,290.4v-2.2 M524.69,0.45v2.2 M536.58,290.4v-3.5 M536.58,0.45v3.5 M67.5,290.79h2.2 M536.6,290.79h-2.2 M67.5,272.62h2.2 M536.6,272.62h-2.2 M67.5,254.46h3.5 M536.6,254.46h-3.5 M67.5,236.30h2.2 M536.6,236.30h-2.2 M67.5,218.13h2.2 M536.6,218.13h-2.2 M67.5,199.97h2.2 M536.6,199.97h-2.2 M67.5,181.80h3.5 M536.6,181.80h-3.5 M67.5,163.63h2.2 M536.6,163.63h-2.2 M67.5,145.47h2.2 M536.6,145.47h-2.2 M67.5,127.31h2.2 M536.6,127.31h-2.2 M67.5,109.14h3.5 M536.6,109.14h-3.5 M67.5,90.97h2.2 M536.6,90.97h-2.2 M67.5,72.81h2.2 M536.6,72.81h-2.2 M67.5,54.65h2.2 M536.6,54.65h-2.2 M67.5,36.48h3.5 M536.6,36.48h-3.5 M67.5,18.31h2.2 M536.6,18.31h-2.2 M67.5,0.15h2.2 M536.6,0.15h-2.2" stroke="#222" stroke-width="0.5" fill="none"/>
<line x1="455" y1="157.4" x2="492.9" y2="157.4" stroke="#0000ff" stroke-width="2.4"/>
<line x1="455" y1="175.7" x2="490" y2="175.7" stroke="#800080" stroke-width="1.9" stroke-dasharray="8.1 1.6 2 1.5"/>
<line x1="455" y1="193.8" x2="493" y2="193.8" stroke="#ff00ff" stroke-width="1.9" stroke-dasharray="14.7 1.4 1.9 1.7"/>
<line x1="455" y1="211.8" x2="492.9" y2="211.8" stroke="#ff0000" stroke-width="1.9" stroke-dasharray="7.6 2.2"/>
<line x1="455" y1="230.0" x2="492.9" y2="230.0" stroke="#996633" stroke-width="1.9" stroke-dasharray="4.6 2"/>
<line x1="455" y1="248.1" x2="492.9" y2="248.1" stroke="#ff8000" stroke-width="1.9"/>
</svg>
<svg width="545" height="338" viewBox="0 0 545 338" style="position:absolute;left:0;top:0;filter:grayscale(1);font-family:'Liberation Sans',sans-serif" fill="#000"><text x="116.61" y="307.50" text-anchor="start" font-size="14">6</text><text x="176.05" y="307.50" text-anchor="start" font-size="14">7</text><text x="235.49" y="307.50" text-anchor="start" font-size="14">8</text><text x="294.93" y="307.50" text-anchor="start" font-size="14">9</text><path transform="translate(350.47,307.50) scale(0.00684,-0.00684)" d="M515 0V1237L197 1010V1180L530 1409H696V0Z"/><text x="358.26" y="307.50" text-anchor="start" font-size="14">0</text><path transform="translate(409.91,307.50) scale(0.00684,-0.00684)" d="M515 0V1237L197 1010V1180L530 1409H696V0Z"/><path transform="translate(417.70,307.50) scale(0.00684,-0.00684)" d="M515 0V1237L197 1010V1180L530 1409H696V0Z"/><path transform="translate(469.35,307.50) scale(0.00684,-0.00684)" d="M515 0V1237L197 1010V1180L530 1409H696V0Z"/><text x="477.14" y="307.50" text-anchor="start" font-size="14">2</text><path transform="translate(528.79,307.50) scale(0.00684,-0.00684)" d="M515 0V1237L197 1010V1180L530 1409H696V0Z"/><text x="536.58" y="307.50" text-anchor="start" font-size="14">3</text><text x="63.80" y="41.98" text-anchor="end" font-size="14">0.02</text><text x="63.80" y="114.64" text-anchor="end" font-size="14">0.00</text><text x="63.80" y="187.30" text-anchor="end" font-size="14">−0.02</text><text x="63.80" y="259.96" text-anchor="end" font-size="14">−0.04</text><text x="302.00" y="332.90" text-anchor="middle" font-size="14">mL</text><g transform="translate(14.1,164.1) rotate(-90)"><text x="0" y="0" font-size="14">E</text><text x="10.3" y="6.1" font-size="10">|202&gt;</text><rect x="25.4" y="-4.6" width="4.2" height="0.75" fill="#000"/></g><text x="497.80" y="161.00" font-size="9.7">BY</text><text x="498.20" y="179.20" font-size="9.7" font-style="italic">μ</text><path transform="translate(503.51,181.00) scale(0.00303,-0.00303)" stroke="#000" stroke-width="90" stroke-linejoin="round" d="M515 0V1237L197 1010V1180L530 1409H696V0Z"/><text x="498.20" y="197.40" font-size="9.7" font-style="italic">μ</text><text x="497.90" y="214.90" font-size="9.7" font-style="italic">F</text><path transform="translate(503.82,216.70) scale(0.00303,-0.00303)" stroke="#000" stroke-width="90" stroke-linejoin="round" d="M515 0V1237L197 1010V1180L530 1409H696V0Z"/><text x="498.20" y="232.80" font-size="9.7" font-style="italic">μ</text><path transform="translate(503.51,234.60) scale(0.00303,-0.00303)" stroke="#000" stroke-width="90" stroke-linejoin="round" d="M515 0V1237L197 1010V1180L530 1409H696V0Z"/><text x="507.26" y="233.60" font-size="8.92">+</text><text x="512.63" y="232.80" font-size="9.7" font-style="italic">F</text><path transform="translate(518.55,234.60) scale(0.00303,-0.00303)" stroke="#000" stroke-width="90" stroke-linejoin="round" d="M515 0V1237L197 1010V1180L530 1409H696V0Z"/><text x="498.20" y="250.90" font-size="9.7" font-style="italic">μ</text><text x="503.81" y="251.70" font-size="8.92">+</text><text x="509.18" y="250.90" font-size="9.7" font-style="italic">F</text><path transform="translate(515.10,252.70) scale(0.00303,-0.00303)" stroke="#000" stroke-width="90" stroke-linejoin="round" d="M515 0V1237L197 1010V1180L530 1409H696V0Z"/></svg>
</body></html>
